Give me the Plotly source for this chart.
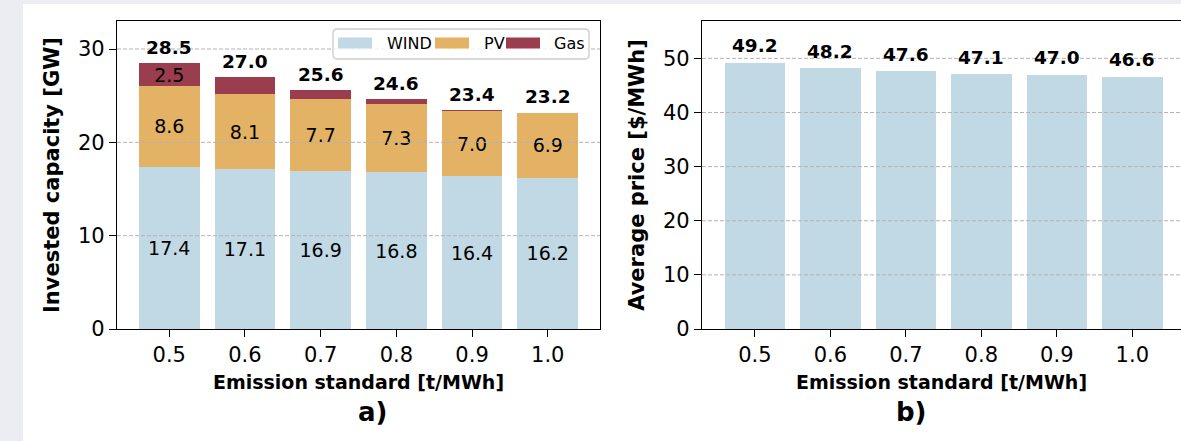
import plotly.graph_objects as go

# ---- data -------------------------------------------------------------
standards = ["0.5", "0.6", "0.7", "0.8", "0.9", "1.0"]      # emission standard [t/MWh]
wind_gw = [17.4, 17.1, 16.9, 16.8, 16.38, 16.22]           # invested wind capacity
pv_gw = [8.6, 8.1, 7.7, 7.3, 6.98, 6.94]                   # invested PV capacity
gas_gw = [2.5, 1.8, 1.0, 0.5, 0.06, 0.0]                   # invested gas capacity
avg_price = [49.2, 48.2, 47.6, 47.1, 47.0, 46.6]           # average price [$/MWh]
cap_ticks = [0, 10, 20, 30]
price_ticks = [0, 10, 20, 30, 40, 50]

# ---- styling ----------------------------------------------------------
W, H = 1181, 441
FONT = "DejaVu Sans"
C_WIND = "#c1d9e4"
C_PV = "#e3b265"
C_GAS = "#9a3d4f"
GRID = "#b3b3b3"
BG = "#ebedf2"

LEFT_X = (117, 600)
RIGHT_X = (702, 1181)
TOP_Y, BOTTOM_Y = 21, 329


def fx(p):
    return p / W


def fy(p):
    return 1 - p / H


fig = go.Figure()

# stacked capacity bars (panel a)
series = [("WIND", wind_gw, C_WIND, 0.0), ("PV", pv_gw, C_PV, 0.0), ("Gas", gas_gw, C_GAS, 2.0)]
for name, vals, color, min_label in series:
    fig.add_trace(go.Bar(
        x=standards, y=vals, name=name, width=0.8,
        marker=dict(color=color, line=dict(width=0)),
        text=[f"{v:.1f}" if v >= min_label else "" for v in vals],
        textposition="inside", insidetextanchor="middle", constraintext="none", textangle=0,
        textfont=dict(family=FONT, size=19, color="black"),
        xaxis="x", yaxis="y", showlegend=False, hoverinfo="skip", cliponaxis=False,
    ))

# average price bars (panel b)
fig.add_trace(go.Bar(
    x=standards, y=avg_price, name="Average price", width=0.8,
    marker=dict(color=C_WIND, line=dict(width=0)),
    xaxis="x2", yaxis="y2", showlegend=False, hoverinfo="skip",
))

totals = [w + p + g for w, p, g in zip(wind_gw, pv_gw, gas_gw)]

annotations = []
# category axes place annotations by category index
for i, tot in enumerate(totals):
    annotations.append(dict(
        x=i, y=tot, xref="x", yref="y", text=f"<b>{tot:.1f}</b>", showarrow=False,
        yanchor="middle", yshift=16, font=dict(family=FONT, size=18.5, color="black"),
    ))
for i, val in enumerate(avg_price):
    annotations.append(dict(
        x=i, y=val, xref="x2", yref="y2", text=f"<b>{val:.1f}</b>", showarrow=False,
        yanchor="middle", yshift=17, font=dict(family=FONT, size=18.5, color="black"),
    ))

# panel captions
for label, cx in [("a)", 372), ("b)", 911)]:
    annotations.append(dict(
        x=fx(cx), y=fy(412), xref="paper", yref="paper", text=f"<b>{label}</b>",
        showarrow=False, xanchor="center", yanchor="middle",
        font=dict(family=FONT, size=26, color="black"),
    ))

shapes = []
# white figure area over the grey page
shapes.append(dict(type="rect", xref="paper", yref="paper", x0=fx(23), x1=1, y0=0, y1=fy(4),
                   fillcolor="white", line=dict(width=0), layer="below"))

# dashed grid drawn over the bars
for t in cap_ticks[1:]:
    shapes.append(dict(type="line", xref="x domain", yref="y", x0=0, x1=1, y0=t, y1=t,
                       line=dict(color=GRID, width=1, dash="4px,2px"), layer="above"))
for t in price_ticks[1:]:
    shapes.append(dict(type="line", xref="x2 domain", yref="y2", x0=0, x1=1, y0=t, y1=t,
                       line=dict(color=GRID, width=1, dash="4px,2px"), layer="above"))

# legend box with rounded corners
lx0, lx1, ly0, ly1, r = 333, 589, 29, 59, 4
rx, ry = r / W, r / H
path = (f"M{fx(lx0 + r)},{fy(ly0)} L{fx(lx1 - r)},{fy(ly0)} Q{fx(lx1)},{fy(ly0)} {fx(lx1)},{fy(ly0) - ry} "
        f"L{fx(lx1)},{fy(ly1) + ry} Q{fx(lx1)},{fy(ly1)} {fx(lx1 - r)},{fy(ly1)} "
        f"L{fx(lx0 + r)},{fy(ly1)} Q{fx(lx0)},{fy(ly1)} {fx(lx0)},{fy(ly1) + ry} "
        f"L{fx(lx0)},{fy(ly0) - ry} Q{fx(lx0)},{fy(ly0)} {fx(lx0 + r)},{fy(ly0)} Z")
shapes.append(dict(type="path", xref="paper", yref="paper", path=path,
                   fillcolor="rgba(255,255,255,0.8)", line=dict(color="#cccccc", width=1.3), layer="above"))

legend_items = [("WIND", C_WIND, 338, 386), ("PV", C_PV, 435, 483), ("Gas", C_GAS, 506, 553)]
for name, color, px0, tx in legend_items:
    shapes.append(dict(type="rect", xref="paper", yref="paper", x0=fx(px0), x1=fx(px0 + 34),
                       y0=fy(48.5), y1=fy(37.5), fillcolor=color, line=dict(width=0), layer="above"))
    annotations.append(dict(
        x=fx(tx - 1.5), y=fy(43), xref="paper", yref="paper", text=name, showarrow=False,
        xanchor="left", yanchor="middle", font=dict(family=FONT, size=16, color="black"),
    ))

axis_style = dict(
    showline=True, linecolor="black", linewidth=1.3,
    ticks="outside", ticklen=7, tickwidth=1.3, tickcolor="black",
    showgrid=False, zeroline=False, automargin=False,
    tickfont=dict(family=FONT, size=21, color="black"),
)

fig.update_layout(
    width=W, height=H,
    margin=dict(l=0, r=0, t=0, b=0),
    paper_bgcolor=BG, plot_bgcolor="rgba(0,0,0,0)",
    barmode="stack", bargap=0.2,
    font=dict(family=FONT, color="black"),
    showlegend=False,
    xaxis=dict(
        axis_style, type="category", domain=[fx(LEFT_X[0]), fx(LEFT_X[1])], range=[-0.69, 5.69],
        anchor="y", mirror=True,
        title=dict(text="<b>Emission standard [t/MWh]</b>", font=dict(family=FONT, size=19), standoff=9),
    ),
    yaxis=dict(
        axis_style, domain=[fy(BOTTOM_Y), fy(TOP_Y)], range=[0, 33.0], tickvals=cap_ticks,
        anchor="x", mirror=True,
        title=dict(text="<b>Invested capacity [GW]</b>", font=dict(family=FONT, size=21), standoff=12),
    ),
    xaxis2=dict(
        axis_style, type="category", domain=[fx(RIGHT_X[0]), fx(RIGHT_X[1])], range=[-0.70, 5.645],
        anchor="y2", mirror=True,
        title=dict(text="<b>Emission standard [t/MWh]</b>", font=dict(family=FONT, size=19), standoff=9),
    ),
    yaxis2=dict(
        axis_style, domain=[fy(BOTTOM_Y), fy(TOP_Y)], range=[0, 56.9], tickvals=price_ticks,
        anchor="x2", mirror=False,
        title=dict(text="<b>Average price [$/MWh]</b>", font=dict(family=FONT, size=21), standoff=12),
    ),
    shapes=shapes,
    annotations=annotations,
)

fig.write_html("out.html")
